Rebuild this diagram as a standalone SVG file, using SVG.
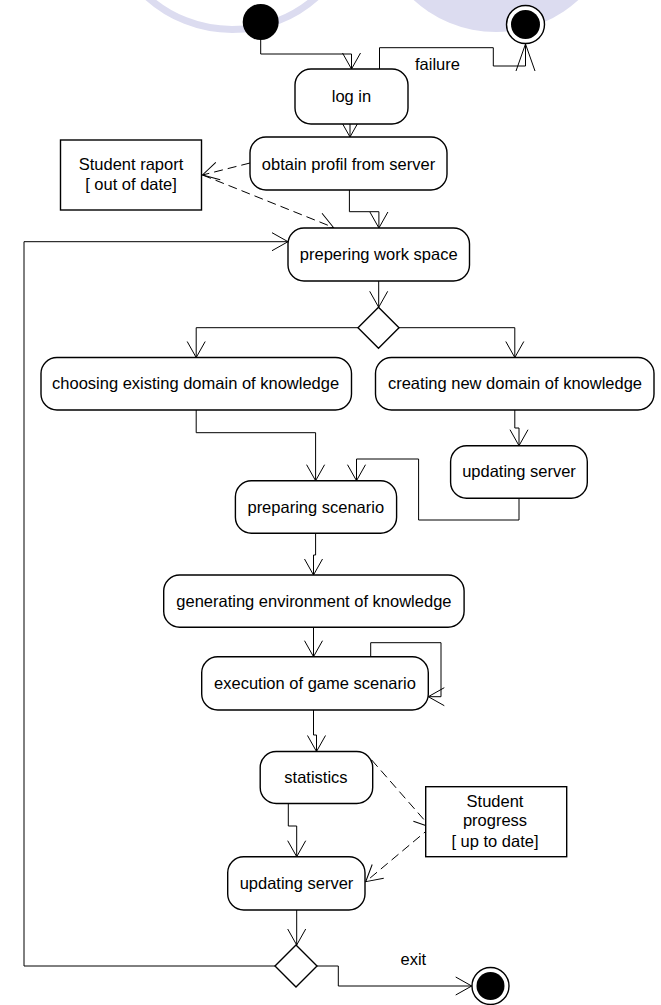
<svg xmlns="http://www.w3.org/2000/svg" width="661" height="1005" viewBox="0 0 661 1005">
  <style>
    .act { fill: #fff; stroke: #000; stroke-width: 1.4; }
    .obj { fill: #fff; stroke: #000; stroke-width: 1.4; }
    .dec { fill: #fff; stroke: #000; stroke-width: 1.4; }
    .flow { fill: none; stroke: #000; stroke-width: 1; marker-end: url(#open); }
    .dep { fill: none; stroke: #000; stroke-width: 1; stroke-dasharray: 9 5; marker-end: url(#open); }
    text { font-family: "Liberation Sans", Arial, sans-serif; font-size: 16.5px; fill: #000; }
    .c { text-anchor: middle; }
    .deco { fill: #dcdcf0; }
  </style>
  <defs>
    <marker id="open" markerUnits="userSpaceOnUse" markerWidth="40" markerHeight="40" refX="0" refY="0" viewBox="-20 -20 40 40" orient="auto" overflow="visible">
      <path d="M-16,-9 L0,0 L-16,9" fill="none" stroke="#000" stroke-width="1"/>
    </marker>
    <marker id="openLong" markerUnits="userSpaceOnUse" markerWidth="40" markerHeight="40" refX="0" refY="0" viewBox="-20 -20 40 40" orient="auto" overflow="visible">
      <path d="M-27,-9.5 L0,0 L-27,9.5" fill="none" stroke="#000" stroke-width="1"/>
    </marker>
  </defs>

  <rect width="661" height="1005" fill="#fff"/>

  <!-- background decoration -->
  <g id="decoration">
    <circle cx="232" cy="-97" r="126.5" fill="none" stroke="#dcdcf0" stroke-width="7"/>
    <circle class="deco" cx="496" cy="-90" r="122"/>
  </g>

  <!-- control flows and object flows -->
  <g id="connectors">
    <path class="flow" d="M260.7,40 V54 H351.5 V69"/>
    <path fill="none" stroke="#000" stroke-width="1" marker-end="url(#openLong)" d="M379.5,69 V47.7 H493.3 V66 H525.5 V44"/>
    <path class="flow" d="M350,124 V137"/>
    <path class="dep" d="M250,163 L202.5,175"/>
    <path class="dep" d="M202.5,175 L333.5,227.5"/>
    <path class="flow" d="M349.4,190 V211.7 H378.9 V228"/>
    <path class="flow" d="M378.7,281 V307.3"/>
    <path class="flow" d="M358,327.7 H196.2 V357.5"/>
    <path class="flow" d="M399,327.7 H514.8 V357.5"/>
    <path class="flow" d="M514.8,410 V428 H519 V445.7"/>
    <path class="flow" d="M196.2,410 V432.7 H315.6 V480.7"/>
    <path class="flow" d="M519,498.3 V520 H418.6 V459 H356.5 V480.7"/>
    <path class="flow" d="M315.6,533.3 V555 H313.5 V575"/>
    <path class="flow" d="M313.5,627.3 V656.7"/>
    <path class="flow" d="M370.7,656.7 V642.7 H441 V696.7 H428.3"/>
    <path class="flow" d="M313.5,710 V735 H316.5 V751.5"/>
    <path class="dep" d="M371.7,760 L430.7,827.3"/>
    <path class="dep" d="M430.7,827.3 L365.7,881.7"/>
    <path class="flow" d="M288.3,803.5 V826 H296.7 V856.7"/>
    <path class="flow" d="M296.7,910 V945"/>
    <path class="flow" d="M275,966 H24 V241.7 H288"/>
    <path class="flow" d="M317,966 H338.3 V986 H471.7"/>
    <text x="415" y="69.5">failure</text>
    <text x="400.5" y="964.5">exit</text>
  </g>

  <!-- nodes -->
  <g id="start">
    <circle cx="260.7" cy="22" r="18" fill="#000"/>
  </g>
  <g id="end-failure">
    <circle cx="525.5" cy="24.5" r="19" fill="#fff" stroke="#000" stroke-width="1.4"/>
    <circle cx="525.5" cy="24.5" r="14.5" fill="#000"/>
  </g>
  <g id="log-in">
    <rect class="act" x="295" y="69" width="113" height="55" rx="16"/>
    <text class="c" x="351.5" y="102">log in</text>
  </g>
  <g id="obtain-profil">
    <rect class="act" x="250" y="137" width="197" height="53" rx="16"/>
    <text class="c" x="348.5" y="169.5">obtain profil from server</text>
  </g>
  <g id="student-raport">
    <rect class="obj" x="60.5" y="140" width="141" height="70"/>
    <text class="c" x="131" y="170">Student raport</text>
    <text class="c" x="131" y="189.5">[ out of date]</text>
  </g>
  <g id="prepering-work-space">
    <rect class="act" x="288" y="228" width="181.5" height="53" rx="16"/>
    <text class="c" x="378.7" y="259.5">prepering work space</text>
  </g>
  <g id="decision-domain">
    <path class="dec" d="M378.5,307.2 L399,327.7 L378.5,348.2 L358,327.7 Z"/>
  </g>
  <g id="choosing-domain">
    <rect class="act" x="41" y="357.5" width="310.5" height="52.5" rx="16"/>
    <text class="c" x="195.6" y="389">choosing existing domain of knowledge</text>
  </g>
  <g id="creating-domain">
    <rect class="act" x="375.5" y="357.5" width="278.5" height="52.5" rx="16"/>
    <text class="c" x="515" y="389">creating new domain of knowledge</text>
  </g>
  <g id="updating-server-1">
    <rect class="act" x="450.6" y="445.7" width="136.7" height="52.6" rx="16"/>
    <text class="c" x="519" y="477">updating server</text>
  </g>
  <g id="preparing-scenario">
    <rect class="act" x="235.4" y="480.7" width="161.2" height="52.6" rx="16"/>
    <text class="c" x="315.8" y="513">preparing scenario</text>
  </g>
  <g id="generating-environment">
    <rect class="act" x="163.7" y="575" width="300.4" height="52.3" rx="16"/>
    <text class="c" x="313.9" y="607">generating environment of knowledge</text>
  </g>
  <g id="execution">
    <rect class="act" x="201.7" y="656.7" width="226.6" height="53.3" rx="16"/>
    <text class="c" x="315" y="688.5">execution of game scenario</text>
  </g>
  <g id="statistics">
    <rect class="act" x="260.2" y="751.5" width="112.5" height="52" rx="16"/>
    <text class="c" x="316" y="782.5">statistics</text>
  </g>
  <g id="student-progress">
    <rect class="obj" x="425.7" y="786.7" width="141" height="70"/>
    <text class="c" x="495" y="806.7">Student</text>
    <text class="c" x="495" y="826">progress</text>
    <text class="c" x="495" y="846.7">[ up to date]</text>
  </g>
  <g id="updating-server-2">
    <rect class="act" x="227.7" y="856.7" width="137.3" height="53.3" rx="16"/>
    <text class="c" x="296.5" y="888.5">updating server</text>
  </g>
  <g id="decision-exit">
    <path class="dec" d="M296,945 L317,966 L296,987 L275,966 Z"/>
  </g>
  <g id="end-exit">
    <circle cx="490.5" cy="986" r="18.5" fill="#fff" stroke="#000" stroke-width="1.4"/>
    <circle cx="490.5" cy="986" r="14" fill="#000"/>
  </g>
</svg>
